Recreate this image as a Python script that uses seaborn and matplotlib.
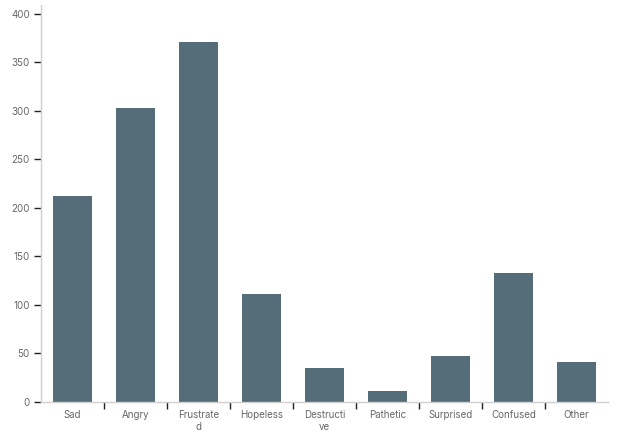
import matplotlib
matplotlib.use("Agg")
import matplotlib.pyplot as plt
import seaborn as sns
import numpy as np
import pandas as pd

# 데이터
emotions = ["Sad", "Angry", "Frustrated", "Hopeless", "Destructive",
            "Pathetic", "Surprised", "Confused", "Other"]
tick_labels = ["Sad", "Angry", "Frustrate\nd", "Hopeless", "Destructi\nve",
               "Pathetic", "Surprised", "Confused", "Other"]
counts = [212, 303, 371, 111, 35, 11, 47, 133, 41]

df = pd.DataFrame({"emotion": emotions, "count": counts})

sns.set_style("white")
plt.rcParams["font.family"] = ["Inter", "DejaVu Sans"]

fig = plt.figure(figsize=(6.3, 4.4), dpi=100)
ax = fig.add_axes([41 / 630, 38 / 440, 567 / 630, 397 / 440])

sns.barplot(data=df, x="emotion", y="count", color="#556d79", saturation=1,
            width=0.62, linewidth=0, ax=ax)

ax.set_xlim(-0.5, len(emotions) - 0.5)
ax.set_ylim(0, 409)
ax.set_yticks(np.arange(0, 401, 50))
ax.set_xticks(range(len(emotions)))
ax.set_xticklabels(tick_labels)
ax.set_xticks(np.arange(0.5, len(emotions) - 1, 1), minor=True)
ax.set_xlabel("")
ax.set_ylabel("")

for side in ["top", "right"]:
    ax.spines[side].set_visible(False)
for side in ["left", "bottom"]:
    ax.spines[side].set_color("#d0d0d0")
    ax.spines[side].set_linewidth(1)

ax.tick_params(axis="y", which="major", length=5, width=1, color="#222222",
               labelsize=7, labelcolor="#666666", pad=3, left=True)
ax.tick_params(axis="x", which="major", length=0, labelsize=7,
               labelcolor="#666666", pad=6)
ax.tick_params(axis="x", which="minor", length=5, width=1, color="#222222",
               bottom=True)
for lbl in ax.get_xticklabels():
    lbl.set_linespacing(1.15)

fig.savefig("out.png", dpi=100)
